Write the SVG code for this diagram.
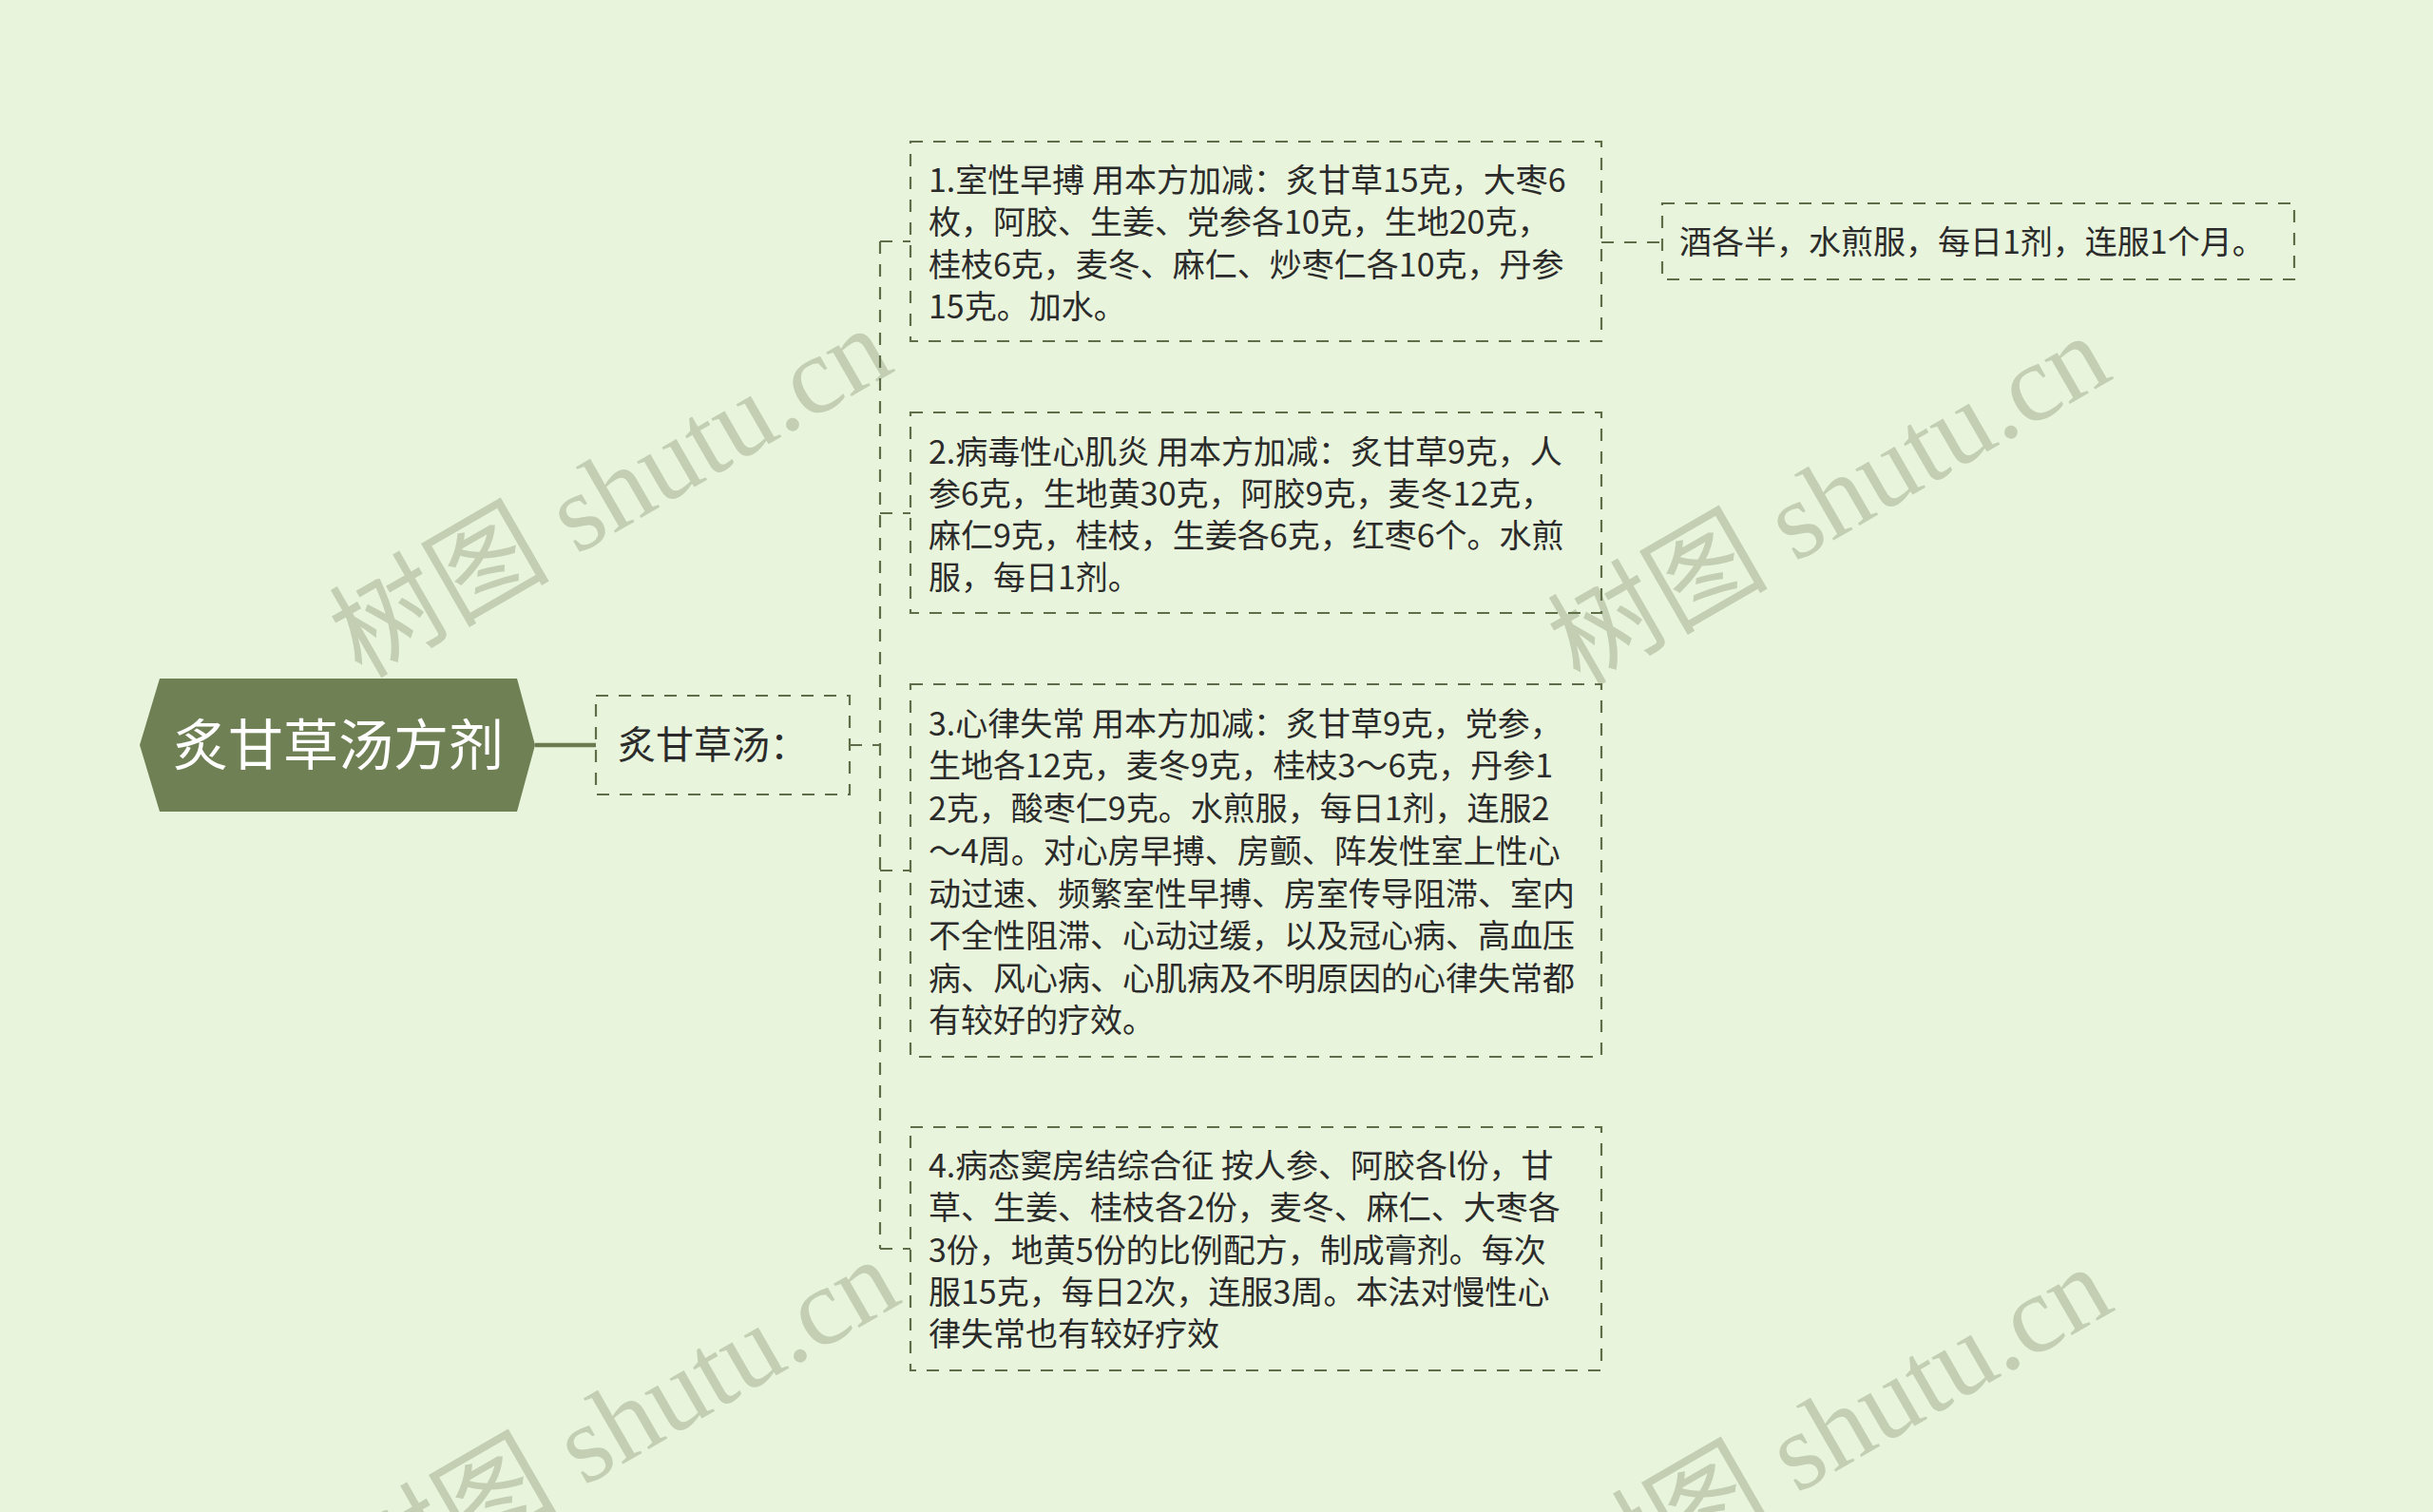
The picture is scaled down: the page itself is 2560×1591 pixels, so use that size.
<svg xmlns="http://www.w3.org/2000/svg" width="2560" height="1591" viewBox="0 0 2560 1591">
<style>
.bg{fill:#e8f5dc}
.wm{font-family:"Liberation Serif","Noto Sans CJK SC",serif;font-size:116px;fill:#c3ceb3}
.box{fill:none;stroke:#5f6d48;stroke-width:2.2;stroke-dasharray:13 11}
.dline{fill:none;stroke:#5f6d48;stroke-width:2.2;stroke-dasharray:13 11}
.sline{fill:none;stroke:#6b7a50;stroke-width:4.5}
.t{font-family:"Noto Sans CJK SC","Noto Sans",sans-serif;font-size:34px;fill:#2b2b2b}
.t2{font-family:"Noto Sans CJK SC","Noto Sans",sans-serif;font-size:40px;fill:#2b2b2b}
.root{font-family:"Noto Sans CJK SC","Noto Sans",sans-serif;font-size:58px;fill:#ffffff}
</style>
<rect class="bg" x="0" y="0" width="2560" height="1591"/>
<g id="watermarks">
<text class="wm" transform="translate(662,552) rotate(-30)" text-anchor="middle">树图 shutu.cn</text>
<text class="wm" transform="translate(1944,560) rotate(-30)" text-anchor="middle">树图 shutu.cn</text>
<text class="wm" transform="translate(670,1532) rotate(-30)" text-anchor="middle">树图 shutu.cn</text>
<text class="wm" transform="translate(1946,1540) rotate(-30)" text-anchor="middle">树图 shutu.cn</text>
</g>
<g id="connectors">
<line class="sline" x1="563" y1="784" x2="627" y2="784"/>
<path class="dline" d="M894,784 H926"/>
<path class="dline" d="M926,254 V1314"/>
<path class="dline" d="M926,254 H958"/>
<path class="dline" d="M926,540 H958"/>
<path class="dline" d="M926,916 H958"/>
<path class="dline" d="M926,1314 H958"/>
<path class="dline" d="M1685,255 H1749"/>
</g>
<g id="root">
<polygon points="147,784 168,714 544,714 563,784 544,854 168,854" fill="#6f8055"/>
<text class="root" x="356" y="805" text-anchor="middle">炙甘草汤方剂</text>
</g>
<g id="n-main">
<rect class="box" x="627" y="732" width="267" height="104"/>
<text class="t2" x="650" y="798">炙甘草汤：</text>
</g>
<g id="n1">
<rect class="box" x="958" y="149" width="727" height="210"/>
<text class="t" x="977" y="202">1.室性早搏 用本方加减：炙甘草15克，大枣6</text>
<text class="t" x="977" y="246">枚，阿胶、生姜、党参各10克，生地20克，</text>
<text class="t" x="977" y="291">桂枝6克，麦冬、麻仁、炒枣仁各10克，丹参</text>
<text class="t" x="977" y="335">15克。加水。</text>
</g>
<g id="n1a">
<rect class="box" x="1749" y="214" width="665" height="80"/>
<text class="t" x="1767" y="267">酒各半，水煎服，每日1剂，连服1个月。</text>
</g>
<g id="n2">
<rect class="box" x="958" y="434" width="727" height="211"/>
<text class="t" x="977" y="488">2.病毒性心肌炎 用本方加减：炙甘草9克，人</text>
<text class="t" x="977" y="532">参6克，生地黄30克，阿胶9克，麦冬12克，</text>
<text class="t" x="977" y="576">麻仁9克，桂枝，生姜各6克，红枣6个。水煎</text>
<text class="t" x="977" y="620">服，每日1剂。</text>
</g>
<g id="n3">
<rect class="box" x="958" y="720" width="727" height="392"/>
<text class="t" x="977" y="774">3.心律失常 用本方加减：炙甘草9克，党参，</text>
<text class="t" x="977" y="818">生地各12克，麦冬9克，桂枝3～6克，丹参1</text>
<text class="t" x="977" y="863">2克，酸枣仁9克。水煎服，每日1剂，连服2</text>
<text class="t" x="977" y="908">～4周。对心房早搏、房颤、阵发性室上性心</text>
<text class="t" x="977" y="953">动过速、频繁室性早搏、房室传导阻滞、室内</text>
<text class="t" x="977" y="997">不全性阻滞、心动过缓，以及冠心病、高血压</text>
<text class="t" x="977" y="1042">病、风心病、心肌病及不明原因的心律失常都</text>
<text class="t" x="977" y="1086">有较好的疗效。</text>
</g>
<g id="n4">
<rect class="box" x="958" y="1186" width="727" height="256"/>
<text class="t" x="977" y="1239">4.病态窦房结综合征 按人参、阿胶各l份，甘</text>
<text class="t" x="977" y="1283">草、生姜、桂枝各2份，麦冬、麻仁、大枣各</text>
<text class="t" x="977" y="1328">3份，地黄5份的比例配方，制成膏剂。每次</text>
<text class="t" x="977" y="1372">服15克，每日2次，连服3周。本法对慢性心</text>
<text class="t" x="977" y="1416">律失常也有较好疗效</text>
</g>
</svg>
